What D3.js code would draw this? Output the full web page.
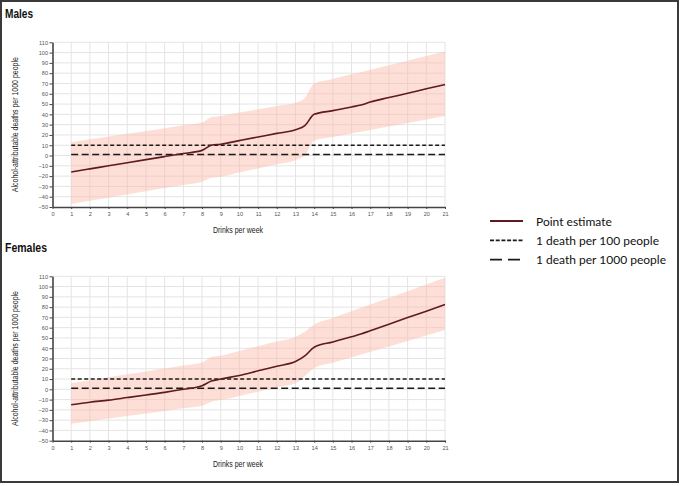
<!DOCTYPE html>
<html>
<head>
<meta charset="utf-8">
<script src="https://cdn.jsdelivr.net/npm/d3@7"></script>
<style>
	body { margin: 0; background: #fff; }
	svg { display: block; }
</style>
</head>
<body>
<svg id="chart" width="680" height="486"></svg>
<script>
// drinks per week at which the estimates were read
const drinks = [1, 2, 3, 4, 5, 6, 7, 8, 8.5, 9, 10, 11, 12, 13, 13.5, 14, 15, 16, 16.5, 17, 18, 19, 20, 21]

// males, alcohol-attributable deaths per 1000 people
const malesEstimate = [-16, -13, -10, -7, -4, -1, 2, 5, 10, 11, 14.5, 18, 21.5, 25, 29, 40, 43.6, 47.2, 49, 52, 56.3, 60.5, 64.8, 69]
const malesUpper = [13, 15.7, 18.4, 21.1, 23.9, 26.6, 29.3, 32, 37.5, 38.5, 41.7, 44.9, 48.1, 51.3, 56, 70, 74.4, 78.9, 81, 83.3, 87.7, 92.1, 96.6, 101]
const malesLower = [-47, -43.9, -40.9, -37.8, -34.7, -31.6, -28.6, -25.5, -21.5, -20.5, -16.5, -12.5, -8.5, -4.5, 0, 14.5, 18, 21.4, 23, 24.8, 28.2, 31.7, 35.1, 38.5]

// females
const femalesEstimate = [-15, -12.5, -10.5, -8, -5.5, -3, 0, 3.5, 8, 10, 13.5, 18, 22.5, 27, 32.5, 41, 46.1, 51.2, 53.8, 57, 63.4, 69.8, 76.1, 82.5]
const femalesUpper = [6, 8.9, 11.7, 14.6, 17.4, 20.3, 23.1, 26, 31.5, 32.7, 37.3, 41.9, 46.5, 51, 56, 63, 69.5, 76, 79.3, 82.5, 89, 95.5, 102, 108.5]
const femalesLower = [-33.5, -31, -28.5, -26, -23.5, -21, -18.5, -16, -12, -10.5, -6.4, -2.3, 1.8, 5.8, 13, 20.5, 25.8, 31.1, 33.8, 36.4, 41.7, 47, 52.4, 57.7]

// reference lines (deaths per 1000)
const thresholds = [
	{ label: '1 death per 100 people', value: 10, dash: '4,2.5', legendDash: '4,1.7' },
	{ label: '1 death per 1000 people', value: 1, dash: '7,3.5', legendDash: '12,6' },
]

const xTicks = d3.range(0, 22)
const yTicks = d3.range(-50, 111, 10)

const colors = {
	line: '#5e1a1e',
	band: '#fbb9a6',
	grid: '#e4e4e4',
	axis: '#444',
	tick: '#555',
	dash: '#1a1a1a',
}

const svg = d3.select('#chart')

//Frame round the whole picture
svg
	.append('rect')
	.attr('x', 1)
	.attr('y', 1)
	.attr('width', 677)
	.attr('height', 481)
	.attr('fill', 'none')
	.attr('stroke', '#3a3a3a')
	.attr('stroke-width', 2)

//Draws one panel (title, grid, band, line, thresholds)
function createPanel(title, titleWidth, top, bottom, estimate, lower, upper) {
	const x = d3.scaleLinear().domain([0, 21]).range([52.5, 445])
	const y = d3.scaleLinear().domain([-50, 110]).range([bottom, top])

	const g = svg.append('g')

	//Title
	g.append('text')
		.attr('x', 5)
		.attr('y', top - 24)
		.attr('font-family', 'Liberation Sans, Arial, sans-serif')
		.attr('font-weight', 'bold')
		.attr('font-size', 13.5)
		.attr('textLength', titleWidth)
		.attr('lengthAdjust', 'spacingAndGlyphs')
		.attr('fill', '#111')
		.text(title)

	//Grid
	g.append('g')
		.selectAll('line')
		.data(xTicks.slice(1))
		.join('line')
		.attr('x1', d => x(d))
		.attr('x2', d => x(d))
		.attr('y1', y(110))
		.attr('y2', y(-50))
		.attr('stroke', colors.grid)
		.attr('stroke-width', 1)

	g.append('g')
		.selectAll('line')
		.data(yTicks.slice(1))
		.join('line')
		.attr('x1', x(0))
		.attr('x2', x(21))
		.attr('y1', d => y(d))
		.attr('y2', d => y(d))
		.attr('stroke', colors.grid)
		.attr('stroke-width', 1)

	const rows = drinks.map((d, i) => ({ x: d, est: estimate[i], lo: lower[i], hi: upper[i] }))

	//Confidence band, see-through so the grid shows
	const area = d3
		.area()
		.x(d => x(d.x))
		.y0(d => y(d.lo))
		.y1(d => y(d.hi))
		.curve(d3.curveMonotoneX)

	g.append('path').datum(rows).attr('d', area).attr('fill', colors.band).attr('fill-opacity', 0.45)

	//Threshold lines
	g.append('g')
		.selectAll('line')
		.data(thresholds)
		.join('line')
		.attr('x1', x(1))
		.attr('x2', x(21))
		.attr('y1', d => y(d.value))
		.attr('y2', d => y(d.value))
		.attr('stroke', colors.dash)
		.attr('stroke-width', 1.5)
		.attr('stroke-dasharray', d => d.dash)

	//Point estimate
	const line = d3
		.line()
		.x(d => x(d.x))
		.y(d => y(d.est))
		.curve(d3.curveMonotoneX)

	g.append('path')
		.datum(rows)
		.attr('d', line)
		.attr('fill', 'none')
		.attr('stroke', colors.line)
		.attr('stroke-width', 1.6)

	//Axes
	const xAxis = g
		.append('g')
		.attr('transform', 'translate(0,' + y(-50) + ')')
		.call(d3.axisBottom(x).tickValues(xTicks).tickSize(2).tickPadding(3).tickSizeOuter(0))

	const yAxis = g
		.append('g')
		.attr('transform', 'translate(' + x(0) + ',0)')
		.call(d3.axisLeft(y).tickValues(yTicks).tickSize(3).tickPadding(1.5).tickSizeOuter(0))

	;[xAxis, yAxis].forEach(a => {
		a.select('.domain').attr('stroke', colors.axis).attr('stroke-width', 1.6)
		a.selectAll('.tick line').attr('stroke', colors.axis)
		a.selectAll('.tick text')
			.attr('fill', colors.tick)
			.style('font-size', '5.6px')
			.style('font-family', 'Liberation Sans, Arial, sans-serif')
	})

	//Axis titles
	g.append('text')
		.attr('transform', 'translate(18,' + (top + bottom) / 2 + ') rotate(-90)')
		.attr('text-anchor', 'middle')
		.attr('font-family', 'Liberation Sans, Arial, sans-serif')
		.attr('font-size', 8.5)
		.attr('textLength', 135)
		.attr('lengthAdjust', 'spacingAndGlyphs')
		.attr('fill', '#222')
		.text('Alcohol-attributable deaths per 1000 people')

	g.append('text')
		.attr('x', 238)
		.attr('y', bottom + 26)
		.attr('text-anchor', 'middle')
		.attr('font-family', 'Liberation Sans, Arial, sans-serif')
		.attr('font-size', 9)
		.attr('textLength', 50)
		.attr('lengthAdjust', 'spacingAndGlyphs')
		.attr('fill', '#222')
		.text('Drinks per week')
}

createPanel('Males', 28, 42.3, 207, malesEstimate, malesLower, malesUpper)
createPanel('Females', 42, 276.3, 440.7, femalesEstimate, femalesLower, femalesUpper)

//Legend
const legendItems = [{ label: 'Point estimate', color: colors.line, dash: null, width: 1.8 }].concat(
	thresholds.map(t => ({ label: t.label, color: colors.dash, dash: t.legendDash, width: 1.8 }))
)

const legend = svg.append('g').attr('transform', 'translate(490,221)')

const items = legend
	.selectAll('g')
	.data(legendItems)
	.join('g')
	.attr('transform', (d, i) => 'translate(0,' + i * 19.3 + ')')

items
	.append('line')
	.attr('x1', 0)
	.attr('x2', 33)
	.attr('stroke', d => d.color)
	.attr('stroke-width', d => d.width)
	.attr('stroke-dasharray', d => d.dash)

items
	.append('text')
	.attr('x', 46)
	.attr('dominant-baseline', 'central')
	.attr('font-family', 'Lato, sans-serif')
	.attr('font-size', 12)
	.attr('fill', '#111')
	.text(d => d.label)
</script>
</body>
</html>
